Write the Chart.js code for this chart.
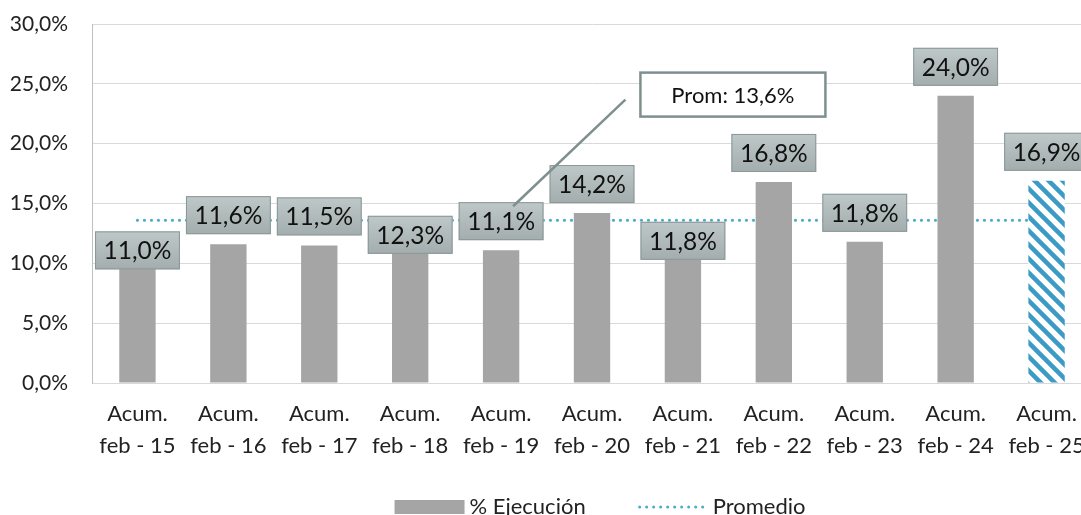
<html>
  <head>
    <script src="https://cdn.jsdelivr.net/npm/chart.js@4.4.1/dist/chart.umd.min.js"></script>
    <style>
      body {
        margin: 0;
        overflow: hidden;
        background: #fff;
        font-family: "Lato", sans-serif;
      }
      #wrap {
        position: relative;
        width: 1100px;
        height: 515px;
      }
    </style>
  </head>

  <body>
    <div id="wrap"><canvas id="chart"></canvas></div>

    <script>
      const categories = [
        ["Acum.", "feb - 15"],
        ["Acum.", "feb - 16"],
        ["Acum.", "feb - 17"],
        ["Acum.", "feb - 18"],
        ["Acum.", "feb - 19"],
        ["Acum.", "feb - 20"],
        ["Acum.", "feb - 21"],
        ["Acum.", "feb - 22"],
        ["Acum.", "feb - 23"],
        ["Acum.", "feb - 24"],
        ["Acum.", "feb - 25"],
      ];
      const ejecucion = [11.0, 11.6, 11.5, 12.3, 11.1, 14.2, 11.8, 16.8, 11.8, 24.0, 16.9];
      const promedio = [13.6, 13.6, 13.6, 13.6, 13.6, 13.6, 13.6, 13.6, 13.6, 13.6, 13.6];
      const promLabel = "Prom: 13,6%";
      // where each value box sits: on the bar end, or lifted above it
      const labelPlace = ["end", "above", "above", "end", "above", "above", "end", "above", "above", "above", "above"];

      const fmt = (v) => v.toFixed(1).replace(".", ",") + "%";
      const FONT = "Lato, sans-serif";

      const make_hatch = () => {
        const c = document.createElement("canvas");
        c.width = 14;
        c.height = 14;
        const g = c.getContext("2d");
        g.fillStyle = "#ffffff";
        g.fillRect(0, 0, 14, 14);
        g.strokeStyle = "#3b9bc6";
        g.lineWidth = 4.5;
        g.beginPath();
        for (let o = -14; o <= 14; o += 14) {
          g.moveTo(o - 2, -2);
          g.lineTo(o + 16, 16);
        }
        g.stroke();
        return g.createPattern(c, "repeat");
      };

      const barColors = ejecucion.map((v, i) =>
        i === ejecucion.length - 1 ? make_hatch() : "#a5a5a5"
      );

      const valueBoxes = {
        id: "valueBoxes",
        afterDatasetsDraw: (chart) => {
          const ctx = chart.ctx;
          const meta = chart.getDatasetMeta(0);
          const y = chart.scales.y;
          ctx.save();
          ctx.font = "24.5px " + FONT;
          ctx.textAlign = "center";
          ctx.textBaseline = "middle";
          meta.data.forEach((bar, i) => {
            const txt = fmt(ejecucion[i]);
            const top = y.getPixelForValue(ejecucion[i]);
            const cy = labelPlace[i] === "end" ? top - 1 : top - 29;
            const w = ctx.measureText(txt).width + 17;
            const h = 38;
            const x0 = bar.x - w / 2;
            const y0 = cy - h / 2;
            const grad = ctx.createLinearGradient(0, y0, 0, y0 + h);
            grad.addColorStop(0, "#bfc8c8");
            grad.addColorStop(1, "#a3adad");
            ctx.fillStyle = grad;
            ctx.fillRect(x0, y0, w, h);
            ctx.strokeStyle = "#899797";
            ctx.lineWidth = 1;
            ctx.strokeRect(x0 + 0.5, y0 + 0.5, w - 1, h - 1);
            ctx.fillStyle = "#111";
            ctx.fillText(txt, bar.x, cy + 1);
          });

          // callout for the average
          const xs = chart.scales.x;
          const bx = xs.getPixelForValue(6.55);
          const by = y.getPixelForValue(24.1);
          const bw = 185;
          const bh = 44;
          ctx.strokeStyle = "#7f8f8f";
          ctx.lineWidth = 2.5;
          ctx.beginPath();
          ctx.moveTo(bx - bw / 2 - 15, by + 5);
          ctx.lineTo(xs.getPixelForValue(4) + 12, y.getPixelForValue(promedio[4]) - 14);
          ctx.stroke();
          ctx.fillStyle = "#fff";
          ctx.fillRect(bx - bw / 2, by - bh / 2, bw, bh);
          ctx.strokeRect(bx - bw / 2, by - bh / 2, bw, bh);
          ctx.fillStyle = "#111";
          ctx.font = "22px " + FONT;
          ctx.fillText(promLabel, bx, by + 1);
          ctx.restore();
        },
      };

      const bottomLegend = {
        id: "bottomLegend",
        afterDraw: (chart) => {
          const ctx = chart.ctx;
          const ds = chart.data.datasets;
          ctx.save();
          ctx.font = "22px " + FONT;
          ctx.textBaseline = "middle";
          const t1 = ctx.measureText(ds[0].label).width;
          const t2 = ctx.measureText(ds[1].label).width;
          const total = 70 + 5 + t1 + 52 + 70 + 5 + t2;
          const mid = (chart.chartArea.left + chart.chartArea.right) / 2 + 8;
          let x = mid - total / 2;
          const cy = 507;
          ctx.fillStyle = "#a5a5a5";
          ctx.fillRect(x, cy - 7, 70, 14);
          x += 75;
          ctx.fillStyle = "#222";
          ctx.fillText(ds[0].label, x, cy);
          x += t1 + 52;
          ctx.strokeStyle = "#4bacc6";
          ctx.lineWidth = 3;
          ctx.lineCap = "round";
          ctx.setLineDash([0, 7]);
          ctx.beginPath();
          ctx.moveTo(x + 2, cy);
          ctx.lineTo(x + 70, cy);
          ctx.stroke();
          ctx.setLineDash([]);
          x += 75;
          ctx.fillText(ds[1].label, x, cy);
          ctx.restore();
        },
      };

      const ctx = document.getElementById("chart").getContext("2d");
      new Chart(ctx, {
        data: {
          labels: categories,
          datasets: [
            {
              type: "bar",
              label: "% Ejecución",
              data: ejecucion,
              backgroundColor: barColors,
              categoryPercentage: 1,
              barPercentage: 0.4,
              order: 1,
            },
            {
              type: "line",
              label: "Promedio",
              data: promedio,
              borderColor: "#4bacc6",
              borderWidth: 3.2,
              borderDash: [0, 7],
              borderCapStyle: "round",
              pointRadius: 0,
              fill: false,
              order: 2,
            },
          ],
        },
        options: {
          responsive: true,
          maintainAspectRatio: false,
          animation: false,
          layout: { padding: { top: 24, right: 7, bottom: 52, left: 0 } },
          plugins: {
            legend: { display: false },
            tooltip: { enabled: false },
          },
          scales: {
            x: {
              offset: true,
              grid: { display: false, drawTicks: false },
              border: { color: "#d9d9d9" },
              ticks: {
                color: "#222",
                font: { family: FONT, size: 22, lineHeight: 1.45 },
                padding: 15,
                maxRotation: 0,
                autoSkip: false,
              },
              afterFit: (s) => {
                s.height = 80;
              },
            },
            y: {
              min: 0,
              max: 30,
              grid: { color: "#d9d9d9", tickColor: "rgba(0,0,0,0)", tickLength: 20 },
              border: { color: "#bfbfbf" },
              ticks: {
                stepSize: 5,
                color: "#222",
                font: { family: FONT, size: 21 },
                padding: 4,
                callback: (v) => fmt(v),
              },
              afterFit: (s) => {
                s.width = 92;
              },
            },
          },
        },
        plugins: [valueBoxes, bottomLegend],
      });
    </script>
  </body>
</html>
